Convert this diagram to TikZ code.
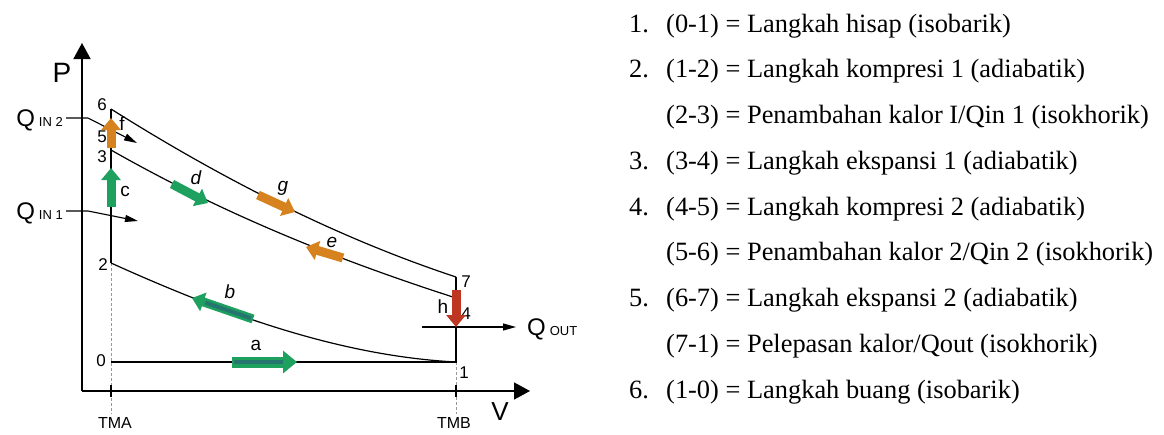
\documentclass[tikz,border=0pt]{standalone}
\usepackage{fontspec}
\setmainfont{Liberation Serif}
\newfontfamily\dsans{Liberation Sans}
\usetikzlibrary{arrows.meta}
\definecolor{pgreen}{RGB}{30,160,95}
\definecolor{pteal}{RGB}{38,118,112}
\definecolor{porange}{RGB}{214,130,30}
\definecolor{pred}{RGB}{190,55,35}
\begin{document}
\begin{tikzpicture}[x=1pt,y=-1pt,
  lbl/.style={font={\dsans\fontsize{#1}{#1}\selectfont}, inner sep=0pt},
  leg/.style={font={\fontsize{26.4}{26.4}\selectfont}, inner sep=0pt, anchor=base west},
  axisline/.style={line width=1.6pt, -{Triangle[length=16pt,width=17pt]}},
  curveline/.style={line width=1.2pt},
  edgeline/.style={line width=2pt},
  guide/.style={gray!80, line width=0.7pt, dash pattern=on 3pt off 2pt},
  tick/.style={line width=2.4pt},
  smallarrow/.style={line width=1.1pt, -{Triangle[length=13pt,width=7pt]}},
  blk/.style={line width=9pt, -{Triangle[length=12pt,width=19pt]}},
  blkbig/.style={line width=11pt, -{Triangle[length=14pt,width=22pt]}},
  stripe/.style={pteal, line width=4pt, shorten >=14pt, shorten <=2pt}]
\useasboundingbox (0,0) rectangle (1164,434);
% axes
\coordinate (O) at (82,391);
\coordinate (Ytip) at (82,43);
\coordinate (Xtip) at (530,391);
\draw[axisline] (O) -- (Ytip);
\draw[axisline] (O) -- (Xtip);
\node[lbl=28] (P) at (62,73) {P};
\node[lbl=26] (V) at (500,412) {V};
% state points
\coordinate (p0) at (111,362);
\coordinate (p1) at (456,362);
\coordinate (p2) at (111,263);
\coordinate (p3) at (111,150);
\coordinate (p4) at (456,298);
\coordinate (p5) at (111,133);
\coordinate (p6) at (111,109);
\coordinate (p7) at (456,277);
\coordinate (tma) at (111,414);
\coordinate (tmb) at (456,414);
% guides and ticks
\draw[guide] (p2) -- (tma);
\draw[guide] (p1) -- (tmb);
\coordinate (ta1) at (111,385);
\coordinate (ta2) at (111,397);
\coordinate (tb1) at (456,385);
\coordinate (tb2) at (456,397);
\draw[tick] (ta1) -- (ta2);
\draw[tick] (tb1) -- (tb2);
% cycle
\draw[line width=2.4pt] (p2) -- (p6);
\draw[curveline] (p6) .. controls (226,181.5) and (341,239) .. (p7);
\draw[curveline] (p3) .. controls (226,215.5) and (341,261) .. (p4);
\draw[curveline] (p2) .. controls (226,315) and (341,356) .. (p1);
\draw[edgeline] (p0) -- (p1) -- (p7);
% point labels
\node[lbl=17] (n6) at (102,105) {6};
\node[lbl=17] (n5) at (102,137) {5};
\node[lbl=17] (n3) at (102,157) {3};
\node[lbl=17] (n2) at (103,265) {2};
\node[lbl=17] (n0) at (101,361) {0};
\node[lbl=17] (n1) at (464,373) {1};
\node[lbl=17] (n7) at (466,282) {7};
\node[lbl=17] (n4) at (466,314) {4};
% heat arrows
\node[lbl=24, anchor=base east] (qin2) at (63,126.5) {Q\,{\fontsize{13}{13}\selectfont IN 2}};
\node[lbl=24, anchor=base east] (qin1) at (63,219) {Q\,{\fontsize{13}{13}\selectfont IN 1}};
\node[lbl=24, anchor=base west] (qout) at (527,335.5) {Q\,{\fontsize{13}{13}\selectfont OUT}};
\coordinate (q2s) at (66,118);
\coordinate (q2a) at (88,118);
\coordinate (q2b) at (137,143);
\coordinate (q1s) at (66,211);
\coordinate (q1a) at (88,211);
\coordinate (q1b) at (138,221);
\coordinate (qoa) at (422,327);
\coordinate (qob) at (516,327);
\draw[smallarrow] (q2s) -- (q2a) -- (q2b);
\draw[smallarrow] (q1s) -- (q1a) -- (q1b);
\draw[smallarrow] (qoa) -- (qob);
% process arrows
\coordinate (aT) at (232,362); \coordinate (aH) at (297,362);
\coordinate (bT) at (253,319); \coordinate (bH) at (192,298);
\coordinate (cT) at (111,207); \coordinate (cH) at (111,168);
\coordinate (dT) at (172,184); \coordinate (dH) at (208,203);
\coordinate (eT) at (343,258); \coordinate (eH) at (306,247);
\coordinate (fT) at (111,148); \coordinate (fH) at (111,118);
\coordinate (gT) at (258,195); \coordinate (gH) at (295,212);
\coordinate (hT) at (456,290); \coordinate (hH) at (456,327);
\draw[blkbig, pgreen] (aT) -- (aH);
\draw[stripe] (aT) -- (aH);
\draw[blk, pgreen] (bT) -- (bH);
\draw[stripe] (bT) -- (bH);
\draw[blk, pgreen] (cT) -- (cH);
\draw[blk, pgreen] (dT) -- (dH);
\draw[blk, porange] (eT) -- (eH);
\draw[blk, porange] (fT) -- (fH);
\draw[blk, porange] (gT) -- (gH);
\draw[blk, pred] (hT) -- (hH);
\node[lbl=19] (la) at (256,345) {a};
\node[lbl=19] (lb) at (230,292) {\itshape b};
\node[lbl=19] (lc) at (125,191) {c};
\node[lbl=19] (ld) at (196,178) {\itshape d};
\node[lbl=19] (le) at (332,242) {\itshape e};
\node[lbl=19] (lf) at (122,124) {f};
\node[lbl=19] (lg) at (283,188) {\itshape g};
\node[lbl=19] (lh) at (443,307) {h};
\node[lbl=16] (TMA) at (115,423) {TMA};
\node[lbl=16] (TMB) at (454,423) {TMB};
% legend
\node[leg] (k1) at (629,32) {1.};
\node[leg] (t1) at (666,32) {(0-1) = Langkah hisap (isobarik)};
\node[leg] (k2) at (629,77.75) {2.};
\node[leg] (t2) at (666,77.75) {(1-2) = Langkah kompresi 1 (adiabatik)};
\node[leg] (t3) at (666,123.5) {(2-3) = Penambahan kalor I/Qin 1 (isokhorik)};
\node[leg] (k3) at (629,169.25) {3.};
\node[leg] (t4) at (666,169.25) {(3-4) = Langkah ekspansi 1 (adiabatik)};
\node[leg] (k4) at (629,215) {4.};
\node[leg] (t5) at (666,215) {(4-5) = Langkah kompresi 2 (adiabatik)};
\node[leg] (t6) at (666,260.75) {(5-6) = Penambahan kalor 2/Qin 2 (isokhorik)};
\node[leg] (k5) at (629,306.5) {5.};
\node[leg] (t7) at (666,306.5) {(6-7) = Langkah ekspansi 2 (adiabatik)};
\node[leg] (t8) at (666,352.25) {(7-1) = Pelepasan kalor/Qout (isokhorik)};
\node[leg] (k6) at (629,398) {6.};
\node[leg] (t9) at (666,398) {(1-0) = Langkah buang (isobarik)};
\end{tikzpicture}
\end{document}
